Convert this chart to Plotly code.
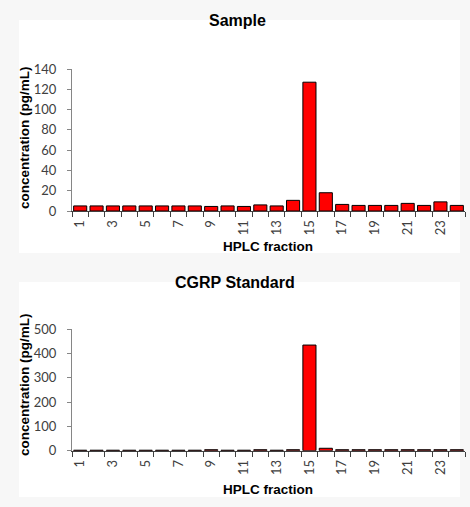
import plotly.graph_objects as go

fractions = list(range(1, 25))
sample_values = [5, 5, 5, 5, 5, 5, 5, 5, 4.5, 5, 4.5, 6, 5, 10.5, 127, 18, 6.5, 5.5, 5.5, 5.5, 7.5, 5.5, 9, 5.5]
standard_values = [2, 2, 2, 2, 2, 2, 2, 2, 4, 2, 2, 4, 2, 4, 434, 10, 4, 4, 4, 4, 4, 4, 4, 4]
x_tick_labels = [str(v) for v in range(1, 25, 2)]
sample_y_ticks = [0, 20, 40, 60, 80, 100, 120, 140]
standard_y_ticks = [0, 100, 200, 300, 400, 500]

W, H = 470, 507

def px(x):
    return x / W

def py(y):
    return 1 - y / H

fig = go.Figure()
fig.add_trace(go.Bar(x=fractions, y=sample_values, xaxis="x", yaxis="y",
                     marker=dict(color="#ff0000", line=dict(color="#000000", width=1)),
                     width=0.8, showlegend=False))
fig.add_trace(go.Bar(x=fractions, y=standard_values, xaxis="x2", yaxis="y2",
                     marker=dict(color="#ff0000", line=dict(color="#000000", width=1)),
                     width=0.8, showlegend=False))

tickfont = dict(family="Lato, Liberation Sans, sans-serif", size=13, color="#404040")

def xaxis(anchor, domain):
    return dict(domain=domain, anchor=anchor, range=[0.5, 24.5], automargin=False,
                tickmode="array", tickvals=list(range(1, 25, 2)), ticktext=x_tick_labels,
                ticks="", tickangle=-90, tickfont=tickfont, ticklabelstandoff=3,
                showline=True, linecolor="#404040", linewidth=1,
                showgrid=False, zeroline=False,
                minor=dict(tickmode="array", tickvals=[i + 0.5 for i in range(0, 25)],
                           ticks="outside", ticklen=5, tickcolor="#404040", tickwidth=1,
                           showgrid=False))

def yaxis(anchor, domain, rng, ticks):
    return dict(domain=domain, anchor=anchor, range=rng, automargin=False,
                tickmode="array", tickvals=ticks, ticks="outside", ticklen=4,
                tickcolor="#868686", tickfont=tickfont, ticklabelstandoff=8,
                showline=True, linecolor="#868686", linewidth=1,
                showgrid=False, zeroline=False)

xdom = [px(72), px(465)]
fig.update_layout(
    width=W, height=H, autosize=False,
    margin=dict(l=0, r=0, t=0, b=0, pad=0, autoexpand=False),
    paper_bgcolor="#f7f7f7", plot_bgcolor="rgba(0,0,0,0)",
    bargap=0.2,
    xaxis=xaxis("y", xdom),
    yaxis=yaxis("x", [py(211), py(69)], [0, 140], sample_y_ticks),
    xaxis2=xaxis("y2", xdom),
    yaxis2=yaxis("x2", [py(450.7), py(329)], [0, 500], standard_y_ticks),
    shapes=[
        dict(type="rect", xref="paper", yref="paper", x0=px(19), x1=px(460), y0=py(253), y1=py(20),
             fillcolor="#ffffff", line=dict(width=0), layer="below"),
        dict(type="rect", xref="paper", yref="paper", x0=px(19), x1=px(460), y0=py(497), y1=py(282),
             fillcolor="#ffffff", line=dict(width=0), layer="below"),
    ],
)

title_font = dict(family="Liberation Sans, Arial, sans-serif", size=16, color="#000000")
label_font = dict(family="Liberation Sans, Arial, sans-serif", size=13.5, color="#000000")

annotations = [
    dict(text="<b>Sample</b>", x=px(238), y=py(21), font=title_font),
    dict(text="<b>CGRP Standard</b>", x=px(235), y=py(282), font=title_font),
    dict(text="<b>concentration (pg/mL)</b>", x=px(24), y=py(138), textangle=-90, font=label_font),
    dict(text="<b>concentration (pg/mL)</b>", x=px(24), y=py(385), textangle=-90, font=label_font),
    dict(text="<b>HPLC fraction</b>", x=px(268), y=py(246), font=label_font),
    dict(text="<b>HPLC fraction</b>", x=px(268), y=py(489), font=label_font),
]
for a in annotations:
    a.update(xref="paper", yref="paper", showarrow=False, xanchor="center", yanchor="middle")
fig.update_layout(annotations=annotations)

fig.write_html(
    "out.html",
    config={"displayModeBar": False},
    post_script=(
        "var d=document.getElementById('{plot_id}');"
        "d.style.position='fixed';d.style.top='0px';d.style.left='0px';"
        "document.documentElement.style.margin='0';document.body.style.margin='0';"
        "document.body.style.padding='0';document.body.style.overflow='hidden';"
    ),
)
